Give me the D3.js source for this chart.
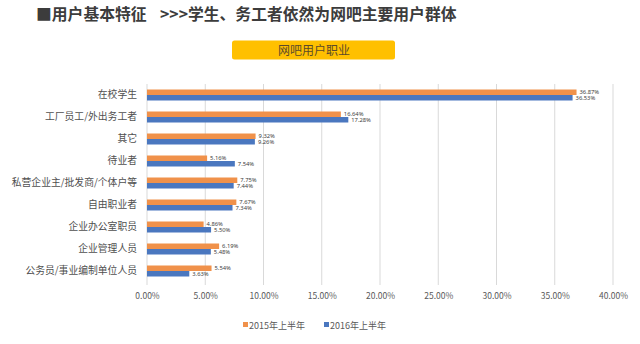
<!DOCTYPE html>
<html><head><meta charset="utf-8">
<script src="https://cdn.jsdelivr.net/npm/d3@7"></script>
<style>
html,body{margin:0;padding:0;background:#fff;}
svg{display:block;font-family:"Noto Sans CJK SC","Noto Sans",sans-serif;}
</style></head>
<body>
<svg id="c" width="640" height="344"></svg>
<script>
const categories = ["在校学生","工厂员工/外出务工者","其它","待业者","私营企业主/批发商/个体户等","自由职业者","企业办公室职员","企业管理人员","公务员/事业编制单位人员"];
const series2015 = [36.87,16.64,9.32,5.16,7.75,7.67,4.86,6.19,5.54];
const series2016 = [36.53,17.28,9.26,7.54,7.44,7.34,5.50,5.48,3.63];
const seriesNames = ["2015年上半年","2016年上半年"];
const xTicks = [0,5,10,15,20,25,30,35,40];
const titleText = "■用户基本特征";
const subtitleText = ">>>学生、务工者依然为网吧主要用户群体";
const boxLabel = "网吧用户职业";
const colors = ["#F0914A","#4A77BF"];

const svg = d3.select("#c");

// Title
svg.append("text").attr("x",36).attr("y",19.5).attr("font-size",15.8).attr("font-weight","bold")
  .attr("fill","#3c3c3c").text(titleText);
svg.append("text").attr("x",160).attr("y",19.5).attr("font-size",15.8).attr("font-weight","bold")
  .attr("fill","#3c3c3c").text(subtitleText);

// Yellow box
svg.append("rect").attr("x",232).attr("y",40.5).attr("width",163).attr("height",19).attr("rx",2.5)
  .attr("fill","#FFC000");
svg.append("text").attr("x",314).attr("y",55).attr("text-anchor","middle").attr("font-size",12)
  .attr("fill","#5b4a2a").text(boxLabel);

const x = d3.scaleLinear().domain([0,40]).range([147,613]);
const y = d3.scaleBand().domain(categories).range([84,282]).paddingInner(0.5).paddingOuter(0.25);
const inner = d3.scaleBand().domain(seriesNames).range([0,y.bandwidth()]);

// Grid
svg.append("g").selectAll("line").data(xTicks).join("line")
  .attr("x1",d=>x(d)).attr("x2",d=>x(d)).attr("y1",84).attr("y2",285)
  .attr("stroke","#D9D9D9").attr("stroke-width",1);

// x axis labels
const xAxis = d3.axisBottom(x).tickValues(xTicks).tickFormat(d=>d.toFixed(2)+"%").tickSize(0).tickPadding(0);
const gx = svg.append("g").attr("transform","translate(0,293)").call(xAxis);
gx.select(".domain").remove();
gx.selectAll("text").attr("font-size",8.5).attr("fill","#595959").attr("font-family","'Noto Sans CJK SC',sans-serif");

// y axis labels
const yAxis = d3.axisLeft(y).tickSize(0).tickPadding(10);
const gy = svg.append("g").attr("transform","translate(147,0)").call(yAxis);
gy.select(".domain").remove();
gy.selectAll("text").attr("font-size",9.8).attr("fill","#505050").attr("font-family","'Noto Sans CJK SC',sans-serif");

// bars
const data = [];
categories.forEach((c,i)=>{
  data.push({c, s:seriesNames[0], v:series2015[i], k:0});
  data.push({c, s:seriesNames[1], v:series2016[i], k:1});
});
svg.append("g").selectAll("rect").data(data).join("rect")
  .attr("x",x(0)).attr("y",d=>y(d.c)+inner(d.s))
  .attr("width",d=>x(d.v)-x(0)).attr("height",inner.bandwidth())
  .attr("fill",d=>colors[d.k]);

svg.append("g").selectAll("text").data(data).join("text")
  .attr("x",d=>x(d.v)+3).attr("y",d=>y(d.c)+inner(d.s)+inner.bandwidth()/2+(d.k===0?-0.6:0.6))
  .attr("dy","0.35em").attr("font-size",5.8).attr("fill","#404040")
  .attr("font-family","'Noto Sans','DejaVu Sans',sans-serif")
  .text(d=>d.v.toFixed(2)+"%");

// legend
const lg = svg.append("g");
const lx = [243,324];
seriesNames.forEach((s,i)=>{
  lg.append("rect").attr("x",lx[i]).attr("y",322).attr("width",5).attr("height",5).attr("fill",colors[i]);
  lg.append("text").attr("x",lx[i]+6).attr("y",328.5).attr("font-size",9).attr("fill","#595959").text(s);
});
</script>
</body></html>
